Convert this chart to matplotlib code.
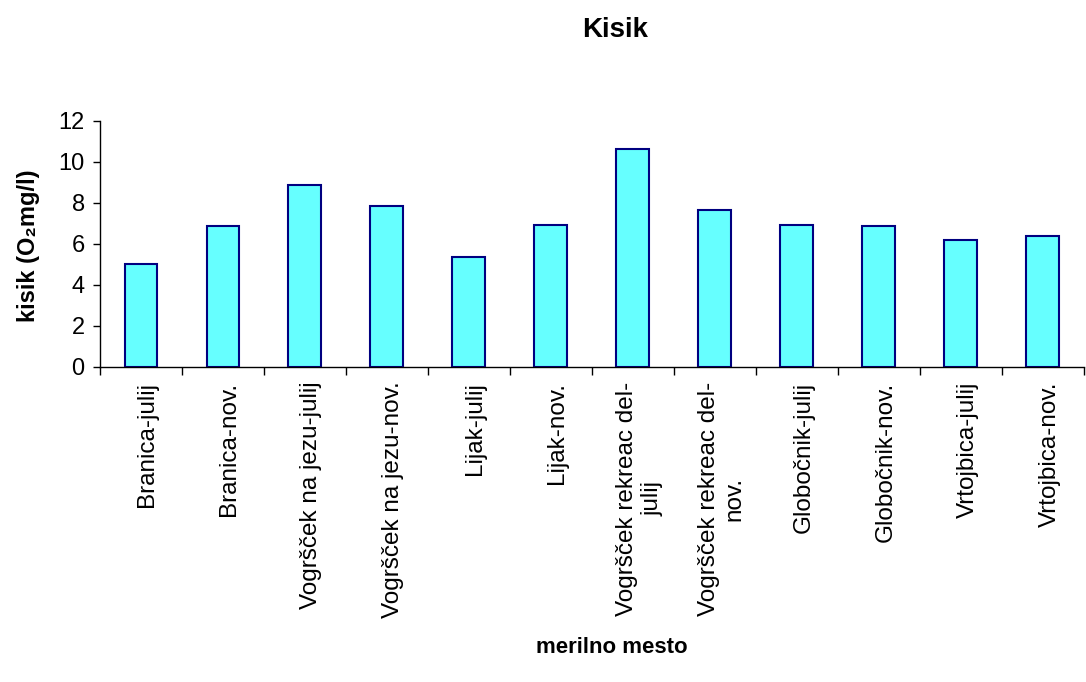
import matplotlib
matplotlib.use("Agg")
import matplotlib.pyplot as plt
import numpy as np

plt.rcParams['font.family'] = ['Liberation Sans', 'DejaVu Sans']

categories = [
    "Branica-julij", "Branica-nov.", "Vogršček na jezu-julij", "Vogršček na jezu-nov.",
    "Lijak-julij", "Lijak-nov.", "Vogršček rekreac del-\njulij", "Vogršček rekreac del-\nnov.",
    "Globočnik-julij", "Globočnik-nov.", "Vrtojbica-julij", "Vrtojbica-nov.",
]
kisik = [5.0, 6.85, 8.88, 7.82, 5.38, 6.93, 10.63, 7.63, 6.93, 6.85, 6.17, 6.36]
yticks = [0, 2, 4, 6, 8, 10, 12]

fig = plt.figure(figsize=(10.86, 6.82), dpi=100)
ax = fig.add_axes([0.092, 0.462, 0.906, 0.361])

x = np.arange(len(categories))
ax.bar(x, kisik, width=0.4, color="#66FFFF", edgecolor="#000080", linewidth=1.5)

ax.set_xlim(-0.5, len(categories) - 0.5)
ax.set_ylim(0, 12)
ax.set_yticks(yticks)
ax.set_yticklabels([str(v) for v in yticks], fontsize=17)
ax.tick_params(axis='y', direction='out', length=5, width=1, pad=6)

# category boundaries carry the tick marks; labels sit under the bar centres
ax.set_xticks(np.arange(len(categories) + 1) - 0.5)
ax.set_xticklabels([])
ax.tick_params(axis='x', direction='out', length=6, width=1)
for xi, lab in zip(x, categories):
    ax.text(xi + 0.08, -0.06, lab, transform=ax.get_xaxis_transform(),
            rotation=90, ha='center', va='top', fontsize=17.5,
            multialignment='center')

for s in ['top', 'right']:
    ax.spines[s].set_visible(False)
for s in ['left', 'bottom']:
    ax.spines[s].set_linewidth(1)
    ax.spines[s].set_color('black')

fig.text(0.566, 0.956, "Kisik", ha='center', va='center', fontsize=20, fontweight='bold')
fig.text(0.563, 0.05, "merilno mesto", ha='center', va='center', fontsize=16, fontweight='bold')
fig.text(0.026, 0.64, "kisik (O₂mg/l)", ha='center', va='center', rotation=90,
         fontsize=17, fontweight='bold')

fig.savefig("out.png", dpi=100)
